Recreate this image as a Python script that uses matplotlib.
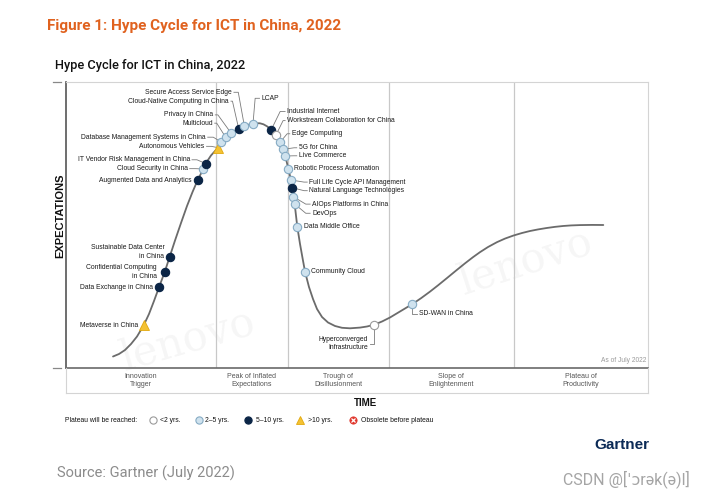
import matplotlib
matplotlib.use("Agg")
import matplotlib.pyplot as plt
from matplotlib.lines import Line2D

# ---------------- data (time 0-100, expectations 0-100) ----------------
curve_time = [8.08, 9.11, 10.14, 11.17, 12.20, 13.35, 14.26, 15.12, 15.98, 16.96, 17.82,
              18.73, 19.76, 20.79, 21.74, 22.63, 23.59, 24.00, 24.91, 26.12, 26.68, 27.44,
              28.35, 29.67, 30.64, 32.13, 32.73, 33.33, 33.93, 34.54, 35.27, 36.08, 36.82,
              37.34, 37.68, 38.20, 38.66, 38.88, 39.05, 39.29, 39.74, 40.21, 40.64, 41.07,
              41.75, 42.44, 43.13, 43.99, 45.02, 46.22, 47.42, 48.80, 50.52, 51.72, 52.97,
              54.30, 55.67, 57.39, 59.45, 61.00, 62.54, 63.92, 65.46, 67.01, 68.56, 69.93,
              71.13, 72.51, 74.05, 75.43, 76.86, 78.35, 79.73, 81.10, 82.59, 84.02, 85.40,
              86.77, 88.32, 90.38, 92.32]
curve_exp = [4.02, 4.90, 6.29, 8.39, 11.01, 14.93, 18.88, 23.43, 28.22, 33.57, 38.92,
             44.58, 50.70, 56.64, 61.54, 65.73, 69.58, 71.50, 74.30, 77.03, 79.02, 80.66,
             82.17, 83.67, 84.72, 85.42, 85.59, 85.56, 85.21, 84.51, 83.32, 81.47, 79.02,
             76.47, 74.13, 69.69, 65.73, 63.04, 59.90, 57.34, 49.41, 43.36, 38.46, 33.67,
             28.32, 24.13, 20.63, 17.83, 15.91, 14.69, 14.06, 13.88, 14.13, 14.51, 15.14,
             16.26, 17.66, 19.76, 22.27, 24.40, 26.70, 28.90, 31.45, 34.05, 36.60, 38.75,
             40.50, 42.30, 44.00, 45.25, 46.30, 47.20, 47.90, 48.45, 48.95, 49.35, 49.65,
             49.85, 49.97, 50.03, 50.00]

tech_labels = [
    "Metaverse in China", "Data Exchange in China", "Confidential Computing\nin China",
    "Sustainable Data Center\nin China", "Augmented Data and Analytics",
    "Cloud Security in China", "IT Vendor Risk Management in China", "Autonomous Vehicles",
    "Database Management Systems in China", "Multicloud", "Privacy in China",
    "Cloud-Native Computing in China", "Secure Access Service Edge", "LCAP",
    "Industrial Internet", "Workstream Collaboration for China", "Edge Computing",
    "5G for China", "Live Commerce", "Robotic Process Automation",
    "Full Life Cycle API Management", "Natural Language Technologies",
    "AIOps Platforms in China", "DevOps", "Data Middle Office", "Community Cloud",
    "Hyperconverged\nInfrastructure", "SD-WAN in China"]
tech_time = [13.35, 15.98, 16.96, 17.82, 22.63, 23.59, 24.00, 26.12, 26.68, 27.44, 28.35,
             29.67, 30.64, 32.13, 35.27, 36.08, 36.82, 37.34, 37.68, 38.20, 38.66, 38.88,
             39.05, 39.29, 39.74, 41.07, 52.97, 59.45]
tech_exp = [14.93, 28.22, 33.57, 38.92, 65.73, 69.58, 71.50, 77.03, 79.02, 80.66, 82.17,
            83.67, 84.72, 85.42, 83.32, 81.47, 79.02, 76.47, 74.13, 69.69, 65.73, 63.04,
            59.90, 57.34, 49.41, 33.67, 15.14, 22.27]
tech_years = [">10", "5-10", "5-10", "5-10", "5-10", "2-5", "5-10", ">10", "2-5", "2-5",
              "2-5", "5-10", "2-5", "2-5", "5-10", "<2", "2-5", "2-5", "2-5", "2-5",
              "2-5", "5-10", "2-5", "2-5", "2-5", "2-5", "<2", "2-5"]

phase_bounds = [0, 25.7, 38.1, 55.5, 76.9, 100]
phase_names = ["Innovation\nTrigger", "Peak of Inflated\nExpectations",
               "Trough of\nDisillusionment", "Slope of\nEnlightenment",
               "Plateau of\nProductivity"]
legend_keys = ["<2", "2-5", "5-10", ">10", "obsolete"]
legend_labels = ["<2 yrs.", "2\u20135 yrs.", "5\u201310 yrs.", ">10 yrs.",
                 "Obsolete before plateau"]

# ---------------- layout (label anchors / leader elbows) ----------------
label_layout = [
    (12.4, 14.9, "right", None), (14.9, 28.3, "right", None), (15.6, 33.6, "right", None),
    (16.9, 40.6, "right", None), (21.5, 65.7, "right", None), (20.9, 69.7, "right", 22.3),
    (21.3, 72.8, "right", 22.5), (23.8, 77.5, "right", 25.0), (24.0, 80.7, "right", 25.3),
    (25.2, 85.6, "right", 25.9), (25.3, 88.5, "right", 26.1), (28.0, 93.3, "right", 28.6),
    (28.5, 96.4, "right", 29.6), (33.6, 94.3, "left", 32.5), (38.0, 89.7, "left", 36.8),
    (38.0, 86.5, "left", 37.3), (38.8, 81.9, "left", 38.0), (40.0, 77.0, "left", 39.2),
    (40.0, 74.2, "left", 39.2), (39.2, 69.7, "left", None), (41.8, 65.0, "left", 40.9),
    (41.8, 62.0, "left", 40.9), (42.3, 57.3, "left", 41.2), (42.3, 54.1, "left", 41.2),
    (40.9, 49.4, "left", None), (42.1, 33.7, "left", None), (51.9, 8.5, "right", "v"),
    (60.7, 19.0, "left", "v")]

styles = {
    "<2": dict(marker="o", ms=6, mfc="white", mec="#9a9a9a", mew=0.8),
    "2-5": dict(marker="o", ms=6, mfc="#cfe2ee", mec="#86abc4", mew=0.8),
    "5-10": dict(marker="o", ms=6, mfc="#0b2546", mec="#0b2546", mew=0.8),
    ">10": dict(marker="^", ms=6.5, mfc="#f4c233", mec="#e2a90e", mew=0.6),
    "obsolete": dict(marker="o", ms=6, mfc="#e0362c", mec="#e0362c", mew=0.6),
}

NARROW = ["Liberation Sans Narrow", "Liberation Sans", "DejaVu Sans"]
SANS = ["Liberation Sans", "DejaVu Sans"]
ROBOTO = ["Roboto", "DejaVu Sans"]
FS = 4.9

W, H = 703, 498
def fx(x): return x / W
def fy(y): return 1 - y / H

fig = plt.figure(figsize=(W / 100, H / 100), dpi=100)
fig.patch.set_facecolor("white")

L, R, T, B, BB = 66, 648, 82, 368, 393
ax = fig.add_axes([fx(L), fy(B), (R - L) / W, (B - T) / H])
ax.set_xlim(0, 100)
ax.set_ylim(0, 100)
ax.set_xticks([])
ax.set_yticks([])
for s in ["top", "right"]:
    ax.spines[s].set_color("#d4d4d4")
    ax.spines[s].set_linewidth(0.8)
ax.spines["left"].set_color("#555555")
ax.spines["left"].set_linewidth(1.2)
ax.spines["bottom"].set_color("#6a6a6a")
ax.spines["bottom"].set_linewidth(1.2)

for xb in phase_bounds[1:-1]:
    ax.axvline(xb, color="#c8c8c8", lw=0.9, zorder=1)

# outside ticks on the expectation axis
for yv in (0.0, 1.0):
    ax.plot([-0.022, -0.008], [yv, yv], transform=ax.transAxes, color="#888888",
            lw=0.9, clip_on=False)

# watermark
ax.text(21, 10, "lenovo", rotation=16, fontsize=30, color="#000000", alpha=0.04,
        family="DejaVu Serif", ha="center", va="center", zorder=0)
ax.text(79, 37, "lenovo", rotation=18, fontsize=30, color="#000000", alpha=0.04,
        family="DejaVu Serif", ha="center", va="center", zorder=0)

ax.plot(curve_time, curve_exp, color="#6b6b6b", lw=1.3, zorder=2,
        solid_capstyle="round", solid_joinstyle="round")

for lab, t, e, yr, (lt, le, ha, kind) in zip(tech_labels, tech_time, tech_exp,
                                              tech_years, label_layout):
    ax.plot([t], [e], linestyle="none", zorder=4, **styles[yr])
    ax.text(lt, le, lab, ha=ha, va="center", fontsize=FS, family=NARROW,
            color="#1a1a1a", linespacing=1.3, zorder=5)
    gap = 0.35 if ha == "right" else -0.35
    if kind == "v":
        xs = [lt + gap, t, t]
        ys = [le, le, e]
        ax.plot(xs, ys, color="#7a7a7a", lw=0.6, zorder=3)
    elif kind is not None:
        xs = [lt + gap, kind, t]
        ys = [le, le, e]
        ax.plot(xs, ys, color="#7a7a7a", lw=0.6, zorder=3)

ax.text(99.7, 2.5, "As of July 2022", ha="right", va="center", fontsize=4.8,
        family=NARROW, color="#9a9a9a")

# phase band
bx = fig.add_axes([fx(L), fy(BB), (R - L) / W, (BB - B) / H])
bx.set_xlim(0, 100)
bx.set_ylim(0, 1)
bx.set_xticks([])
bx.set_yticks([])
bx.patch.set_alpha(0)
bx.spines["top"].set_visible(False)
for s in ["left", "right", "bottom"]:
    bx.spines[s].set_color("#d4d4d4")
    bx.spines[s].set_linewidth(0.8)
for i, name in enumerate(phase_names):
    cx = (phase_bounds[i] + phase_bounds[i + 1]) / 2
    bx.text(cx, 0.5, name, ha="center", va="center", fontsize=5.0, family=NARROW,
            color="#555555", linespacing=1.35)

# titles
fig.text(fx(47), fy(26), "Figure 1: Hype Cycle for ICT in China, 2022", color="#E0621F",
         fontsize=11, fontweight="bold", family=ROBOTO, ha="left", va="center")
fig.text(fx(55), fy(66), "Hype Cycle for ICT in China, 2022", color="#111111",
         fontsize=9.2, fontweight="medium", family=ROBOTO, ha="left", va="center")

fig.text(fx(60), fy(216), "EXPECTATIONS", rotation=90, fontsize=8, fontweight="bold",
         family=SANS, ha="center", va="center", color="#111111")
fig.text(fx(365), fy(403), "TIME", fontsize=7, fontweight="bold", family=SANS,
         ha="center", va="center", color="#111111")

# legend
LY = 420
fig.text(fx(65), fy(LY), "Plateau will be reached:", fontsize=FS, family=NARROW,
         ha="left", va="center", color="#111111")
mk_x = [153, 199, 248, 300, 353]
tx_x = [160, 205, 256, 308, 361]
for key, lab, mx, tx in zip(legend_keys, legend_labels, mk_x, tx_x):
    st = dict(styles[key])
    st["ms"] = st["ms"] - 0.8
    fig.add_artist(Line2D([fx(mx)], [fy(LY)], transform=fig.transFigure,
                          linestyle="none", **st))
    if key == "obsolete":
        fig.add_artist(Line2D([fx(mx)], [fy(LY)], transform=fig.transFigure,
                              linestyle="none", marker="x", ms=2.8, mec="white", mew=0.9))
    fig.text(fx(tx), fy(LY), lab, fontsize=FS, family=NARROW, ha="left",
             va="center", color="#111111")

fig.text(fx(649), fy(445), "Gartner", fontsize=11, fontweight="bold", family=SANS,
         ha="right", va="center", color="#0b2a56")
fig.text(fx(57), fy(473), "Source: Gartner (July 2022)", fontsize=10.5, family=ROBOTO,
         ha="left", va="center", color="#8c8c8c")
fig.text(fx(690), fy(479), "CSDN @[\u02c8\u0254r\u0259k(\u0259)l]", fontsize=11.5,
         family=ROBOTO, ha="right", va="center", color="#a5a5a5")

fig.savefig("out.png", dpi=100, facecolor="white")
